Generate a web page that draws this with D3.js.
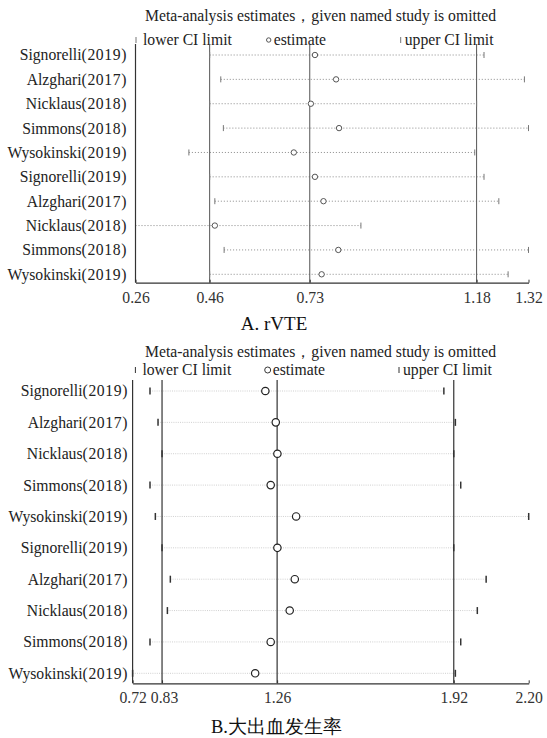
<!DOCTYPE html>
<html>
<head>
<meta charset="utf-8">
<script src="https://cdn.jsdelivr.net/npm/d3@7"></script>
<style>
  body { margin: 0; background: #fff; }
  svg { display: block; }
</style>
</head>
<body>
<div id="chart"></div>
<script>
// study omitted in each row (same order in both panels)
const studies = ['Signorelli(2019)', 'Alzghari(2017)', 'Nicklaus(2018)', 'Simmons(2018)', 'Wysokinski(2019)',
  'Signorelli(2019)', 'Alzghari(2017)', 'Nicklaus(2018)', 'Simmons(2018)', 'Wysokinski(2019)'];

// A. rVTE
const vteLower = [0.46, 0.49, 0.46, 0.497, 0.404, 0.46, 0.474, 0.26, 0.499, 0.46];
const vteEstimate = [0.744, 0.801, 0.733, 0.809, 0.687, 0.744, 0.767, 0.474, 0.807, 0.762];
const vteUpper = [1.20, 1.309, 1.18, 1.32, 1.175, 1.20, 1.24, 0.868, 1.32, 1.265];
const vteOverall = [0.46, 0.73, 1.18];
const vteTicks = [0.26, 0.46, 0.73, 1.18, 1.32];

// B. major bleeding
const bleedLower = [0.785, 0.815, 0.83, 0.785, 0.805, 0.83, 0.861, 0.85, 0.785, 0.72];
const bleedEstimate = [1.216, 1.255, 1.261, 1.236, 1.331, 1.261, 1.326, 1.307, 1.236, 1.178];
const bleedUpper = [1.883, 1.926, 1.92, 1.946, 2.20, 1.92, 2.041, 2.008, 1.946, 1.926];
const bleedOverall = [0.83, 1.26, 1.92];
const bleedTicks = [0.72, 0.83, 1.26, 1.92, 2.20];

const headerText = 'Meta-analysis estimates，given named study is omitted';
const serif = "'Liberation Serif', 'Times New Roman', serif";

const svg = d3.select('#chart').append('svg')
  .attr('width', 547)
  .attr('height', 738)
  .attr('font-family', serif);

svg.append('rect').attr('width', 547).attr('height', 738).attr('fill', '#fff');

function drawPanel(p) {
  const g = svg.append('g');
  const rows = d3.range(studies.length);
  const data = rows.map((i) => ({ i, name: studies[i], lo: p.lower[i], est: p.estimate[i], hi: p.upper[i] }));

  const x = d3.scaleLinear()
    .domain([p.ticks[0], p.ticks[p.ticks.length - 1]])
    .range(p.xRange);
  const y = d3.scalePoint().domain(rows).range(p.yRange);

  // header + legend
  g.append('text')
    .attr('x', p.headerX).attr('y', p.headerY)
    .attr('font-size', 15.7).attr('fill', '#222')
    .text(headerText);

  const legend = g.append('g').attr('font-size', 15.7).attr('fill', '#222');
  legend.append('line')
    .attr('x1', p.legX[0]).attr('x2', p.legX[0])
    .attr('y1', p.legY - 3).attr('y2', p.legY + 3)
    .attr('stroke', p.tickColor).attr('stroke-width', 1);
  legend.append('text').attr('x', p.legX[0] + 7).attr('y', p.legY).attr('dy', '0.35em').text('lower CI limit');
  legend.append('circle')
    .attr('cx', p.legX[1]).attr('cy', p.legY).attr('r', p.legR)
    .attr('fill', 'none').attr('stroke', p.dotColor).attr('stroke-width', 0.9);
  legend.append('text').attr('x', p.legX[1] + 5).attr('y', p.legY).attr('dy', '0.35em').text('estimate');
  legend.append('line')
    .attr('x1', p.legX[2]).attr('x2', p.legX[2])
    .attr('y1', p.legY - 3).attr('y2', p.legY + 3)
    .attr('stroke', p.tickColor).attr('stroke-width', 1);
  legend.append('text').attr('x', p.legX[2] + 4).attr('y', p.legY).attr('dy', '0.35em').text('upper CI limit');

  // dotted CI lines
  g.append('g').selectAll('line')
    .data(data)
    .enter()
    .append('line')
    .attr('x1', (d) => x(d.lo))
    .attr('x2', (d) => x(d.hi))
    .attr('y1', (d) => y(d.i))
    .attr('y2', (d) => y(d.i))
    .attr('stroke', p.ciColor)
    .attr('stroke-width', 1)
    .attr('stroke-dasharray', p.dash);

  // overall estimate and CI
  g.append('g').selectAll('line')
    .data(p.overall)
    .enter()
    .append('line')
    .attr('x1', (d) => x(d)).attr('x2', (d) => x(d))
    .attr('y1', p.top).attr('y2', p.axisY)
    .attr('stroke', p.refColor)
    .attr('stroke-width', p.refWidth);

  // CI end ticks
  const ends = g.append('g').attr('stroke', p.tickColor).attr('stroke-width', p.tickWidth);
  ['lo', 'hi'].forEach((k) => {
    ends.selectAll('line.' + k)
      .data(data)
      .enter()
      .append('line')
      .attr('class', k)
      .attr('x1', (d) => x(d[k])).attr('x2', (d) => x(d[k]))
      .attr('y1', (d) => y(d.i) - p.tickHalf)
      .attr('y2', (d) => y(d.i) + p.tickHalf);
  });

  // estimates
  g.append('g').selectAll('circle')
    .data(data)
    .enter()
    .append('circle')
    .attr('cx', (d) => x(d.est))
    .attr('cy', (d) => y(d.i))
    .attr('r', p.r)
    .attr('fill', '#fff')
    .attr('stroke', p.dotColor)
    .attr('stroke-width', p.dotWidth);

  // y axis line + row labels
  g.append('line')
    .attr('x1', p.xRange[0]).attr('x2', p.xRange[0])
    .attr('y1', p.top).attr('y2', p.axisY)
    .attr('stroke', '#333').attr('stroke-width', 1.2);

  const labels = g.append('g').selectAll('text')
    .data(data)
    .enter()
    .append('text')
    .attr('x', p.labelX)
    .attr('y', (d) => y(d.i))
    .attr('dy', '0.35em')
    .attr('text-anchor', 'end')
    .attr('font-size', 15.7)
    .attr('fill', '#222');
  labels.append('tspan').text((d) => d.name.split('(')[0]);
  labels.append('tspan')
    .attr('letter-spacing', 0.6)
    .text((d) => '(' + d.name.split('(')[1]);

  // x axis
  const axis = g.append('g')
    .attr('transform', 'translate(0,' + p.axisY + ')')
    .call(d3.axisBottom(x)
      .tickValues(p.ticks)
      .tickFormat(d3.format('.2f'))
      .tickSizeInner(-3)
      .tickSizeOuter(0)
      .tickPadding(9));
  axis.attr('font-family', serif).attr('font-size', 15.7);
  axis.select('.domain').attr('stroke', '#333').attr('stroke-width', 1.2);
  axis.selectAll('.tick line').attr('stroke', '#333');
  axis.selectAll('.tick text').attr('fill', '#333');

  // push apart tick labels that touch (0.72 / 0.83)
  let prevRight = -Infinity;
  axis.selectAll('.tick').each(function (d) {
    const t = d3.select(this).select('text');
    const box = t.node().getBBox();
    const left = x(d) + box.x;
    if (left < prevRight + 4) {
      const shift = prevRight + 4 - left;
      t.attr('x', shift);
      prevRight = x(d) + box.x + box.width + shift;
    } else {
      prevRight = x(d) + box.x + box.width;
    }
  });

  g.append('text')
    .attr('x', p.titleX).attr('y', p.titleY)
    .attr('font-size', p.titleSize)
    .attr('fill', '#111')
    .attr('text-anchor', 'middle')
    .text(p.title);
}

drawPanel({
  lower: vteLower, estimate: vteEstimate, upper: vteUpper, overall: vteOverall, ticks: vteTicks,
  xRange: [135.5, 528.5], yRange: [55, 274.3], top: 44, axisY: 282.7, labelX: 127,
  headerX: 145, headerY: 20.5, legY: 40, legX: [136, 268.7, 400.7], legR: 2.2,
  ciColor: '#8a8a8a', dash: '1,2', refColor: '#555', refWidth: 1,
  tickColor: '#777', tickWidth: 1, tickHalf: 3,
  dotColor: '#444', dotWidth: 0.9, r: 2.7,
  title: 'A. rVTE', titleX: 274, titleY: 330, titleSize: 19
});

drawPanel({
  lower: bleedLower, estimate: bleedEstimate, upper: bleedUpper, overall: bleedOverall, ticks: bleedTicks,
  xRange: [132.6, 528.7], yRange: [391, 673.3], top: 380, axisY: 683.3, labelX: 128,
  headerX: 145, headerY: 357, legY: 370, legX: [135.4, 267.7, 399], legR: 3,
  ciColor: '#cfcfcf', dash: '1,1.2', refColor: '#333', refWidth: 1.2,
  tickColor: '#333', tickWidth: 1.5, tickHalf: 3.5,
  dotColor: '#222', dotWidth: 1.2, r: 3.7,
  title: 'B.大出血发生率', titleX: 276.5, titleY: 733, titleSize: 18.5
});
</script>
</body>
</html>
